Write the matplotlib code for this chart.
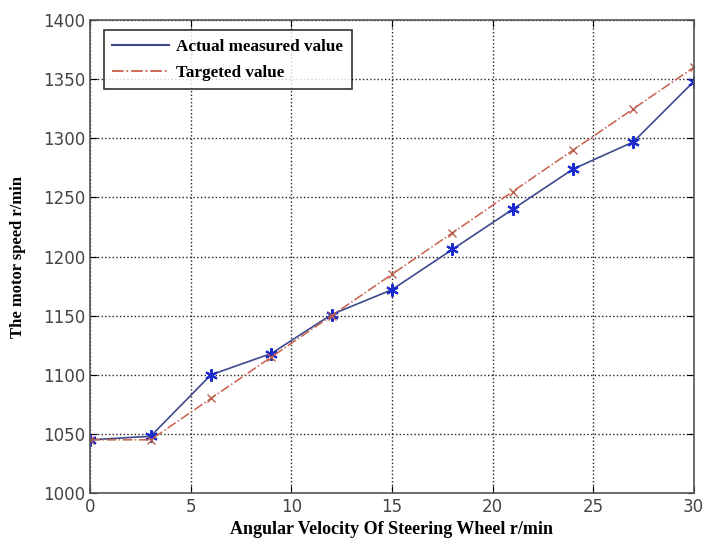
import matplotlib.pyplot as plt
from matplotlib.lines import Line2D

# data
speed = [0, 3, 6, 9, 12, 15, 18, 21, 24, 27, 30]
actual = [1045, 1048, 1100, 1118, 1151, 1172, 1206, 1240, 1274, 1297, 1348]
target = [1045, 1045, 1080, 1115, 1150, 1185, 1220, 1255, 1290, 1325, 1360]
xticks = [0, 5, 10, 15, 20, 25, 30]
yticks = [1000, 1050, 1100, 1150, 1200, 1250, 1300, 1350, 1400]

fig = plt.figure(figsize=(7.05, 5.43), dpi=100)
ax = fig.add_axes([0.128, 0.092, 0.856, 0.871])

ax.plot(speed, actual, color='#3c4a8c', lw=1.2, marker=(6, 2, 0), ms=9,
        mew=1.5, mec='#1a2ad0', mfc='#1a2ad0')
ax.plot(speed, target, color='#c8604a', lw=1.1, ls='-.', marker='x', ms=6,
        mec='#b86050')

ax.set_xlim(0, 30)
ax.set_ylim(1000, 1400)
ax.set_xticks(xticks)
ax.set_yticks(yticks)
ax.grid(True, ls=':', color='#222222', lw=1.0)
ax.tick_params(direction='in', top=True, right=True, labelsize=12,
               labelcolor='#444444', length=5)
for s in ax.spines.values():
    s.set_color('#555555')
    s.set_linewidth(1.2)

serif = ['Liberation Serif', 'DejaVu Serif']
ax.set_xlabel('Angular Velocity Of Steering Wheel r/min', family=serif,
              fontweight='bold', fontsize=13, labelpad=4)
ax.set_ylabel('The motor speed r/min', family=serif, fontweight='bold',
              fontsize=12, labelpad=12)

# legend shows lines only, no markers
handles = [Line2D([], [], color='#3c4a8c', lw=1.5),
           Line2D([], [], color='#c8604a', lw=1.3, ls='-.')]
leg = ax.legend(handles, ['Actual measured value', 'Targeted value'],
                loc='upper left', prop={'family': serif, 'weight': 'bold', 'size': 12.3},
                frameon=True, fancybox=False, edgecolor='black', borderpad=0.5,
                handlelength=3.3, handletextpad=0.45, labelspacing=0.6,
                bbox_to_anchor=(0.008, 0.997))
leg.get_frame().set_linewidth(1.2)

fig.savefig('out.png', dpi=100)
